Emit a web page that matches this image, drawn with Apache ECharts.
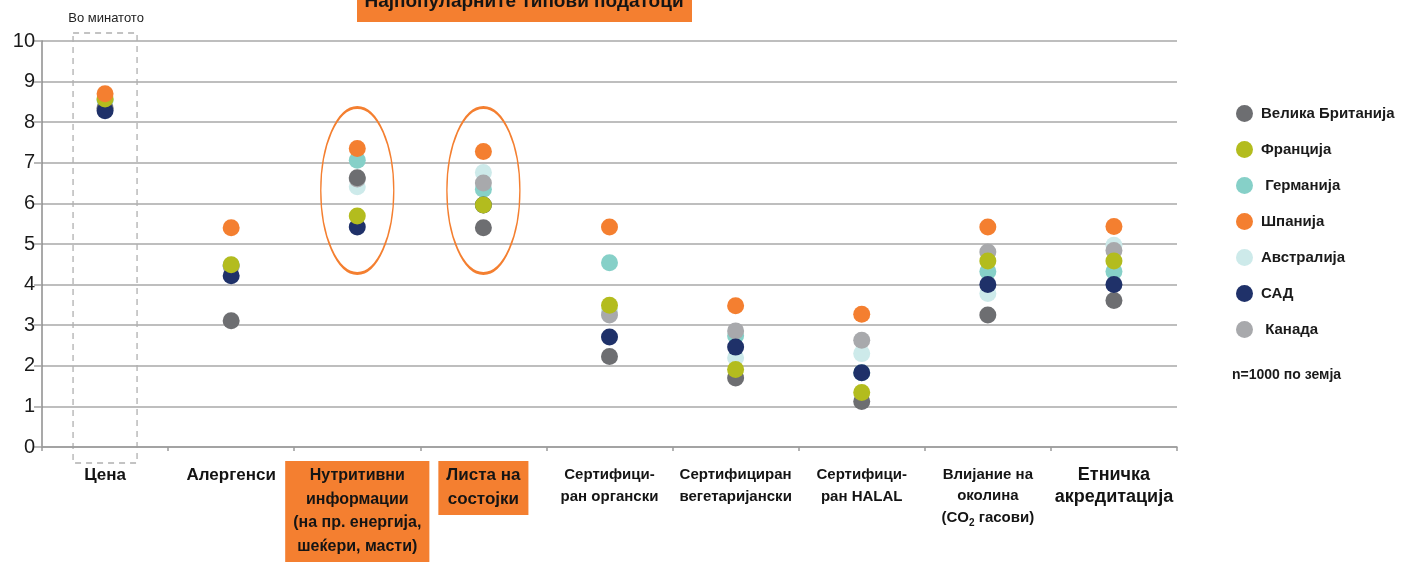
<!DOCTYPE html>
<html>
<head>
<meta charset="utf-8">
<script src="https://cdn.jsdelivr.net/npm/echarts@6/dist/echarts.min.js"></script>
<style>
  html, body { margin: 0; padding: 0; background: #ffffff; }
  #chart { width: 1407px; height: 562px; }
</style>
</head>
<body>
<div id="chart"></div>
<script>
// Categories (x axis), in display order; line breaks are part of the label text
const categories = [
  'Цена',
  'Алергенси',
  'Нутритивни\nинформации\n(на пр. енергија,\nшеќери, масти)',
  'Листа на\nсостојки',
  'Сертифици-\nран органски',
  'Сертифициран\nвегетаријански',
  'Сертифици-\nран HALAL',
  'Влијание на\nоколина\n(CO2 гасови)',
  'Етничка\nакредитација'
];

// Countries as listed in the legend
const countries = ['Велика Британија', 'Франција', 'Германија', 'Шпанија', 'Австралија', 'САД', 'Канада'];

// Average importance score (0–10) per category, one array per country
const ukValues        = [8.34, 3.11, 6.63, 5.40, 2.23, 1.70, 1.12, 3.25, 3.61];
const franceValues    = [8.57, 4.49, 5.69, 5.96, 3.49, 1.91, 1.34, 4.58, 4.58];
const germanyValues   = [8.55, 4.47, 7.06, 6.35, 4.54, 2.74, 1.83, 4.32, 4.32];
const spainValues     = [8.70, 5.40, 7.35, 7.28, 5.42, 3.48, 3.27, 5.42, 5.43];
const australiaValues = [8.53, 4.48, 6.41, 6.76, 3.35, 2.20, 2.30, 3.78, 4.97];
const usaValues       = [8.28, 4.22, 5.42, 5.96, 2.71, 2.46, 1.83, 4.00, 4.00];
const canadaValues    = [8.35, 4.45, 6.60, 6.50, 3.25, 2.86, 2.63, 4.80, 4.84];

// Y axis range and step
const yMin = 0, yMax = 10, yStep = 1;

// Categories circled as the most popular ones, and the score the ring is centred on
const popularCategories = [categories[2], categories[3]];
const popularRingCentre = 6.32;
const pastCategory = categories[0];

// ---- styling ----
const FONT = '"Liberation Sans", Arial, Helvetica, sans-serif';
const ORANGE = '#f47f30';
const countryColors = {
  'Велика Британија': '#6d6e71',
  'Франција': '#b3bc1e',
  'Германија': '#86d0c8',
  'Шпанија': '#f47f30',
  'Австралија': '#cdeaea',
  'САД': '#1f3169',
  'Канада': '#a8a9ac'
};
const countryValues = {
  'Велика Британија': ukValues,
  'Франција': franceValues,
  'Германија': germanyValues,
  'Шпанија': spainValues,
  'Австралија': australiaValues,
  'САД': usaValues,
  'Канада': canadaValues
};
// stacking order of the dot layers (first = bottom)
const drawOrder = ['Австралија', 'Германија', 'Канада', 'Велика Британија', 'САД', 'Франција', 'Шпанија'];
const labelFontSize = [17, 17, 16, 17, 15, 15, 15, 15, 18];
const labelLineHeight = [22, 22, 23.5, 23.5, 22, 22, 22, 21.5, 22];

const chart = echarts.init(document.getElementById('chart'), null, { renderer: 'canvas' });

const xData = categories.map((c, i) => {
  const ts = { fontSize: labelFontSize[i], lineHeight: labelLineHeight[i] };
  if (popularCategories.includes(c)) {
    ts.backgroundColor = ORANGE;
    ts.padding = [3, 8, 4, 8];
  }
  return { value: c, textStyle: ts };
});

const dotSeries = drawOrder.map(name => ({
  name: name,
  type: 'scatter',
  symbol: 'circle',
  symbolSize: 17,
  itemStyle: { color: countryColors[name], opacity: 1 },
  emphasis: { disabled: true },
  data: countryValues[name].map((v, i) => [categories[i], v]),
  z: 3
}));

const ringSeries = {
  name: 'ring',
  type: 'scatter',
  silent: true,
  symbol: 'path://M0,50 C0,22.4 22.4,0 50,0 C77.6,0 100,22.4 100,50 C100,77.6 77.6,100 50,100 C22.4,100 0,77.6 0,50 Z',
  symbolSize: [73, 166],
  itemStyle: { color: 'transparent', borderColor: ORANGE, borderWidth: 2, opacity: 1 },
  emphasis: { disabled: true },
  data: popularCategories.map(c => [c, popularRingCentre]),
  z: 2
};

chart.setOption({
  animation: false,
  textStyle: { fontFamily: FONT },
  grid: { left: 42, right: 230, top: 41, bottom: 110, containLabel: false },
  legend: {
    data: countries,
    orient: 'vertical',
    left: 1231,
    top: 100,
    icon: 'circle',
    itemWidth: 17,
    itemHeight: 17,
    itemGap: 19,
    selectedMode: false,
    formatter: n => (n === 'Германија' || n === 'Канада') ? ' ' + n : n,
    textStyle: { fontFamily: FONT, fontSize: 15, fontWeight: 'bold', color: '#1a1a1a', padding: [0, 0, 0, 3] }
  },
  xAxis: {
    type: 'category',
    data: xData,
    boundaryGap: true,
    axisLine: { show: true, lineStyle: { color: '#9a9a9a', width: 1.5 } },
    axisTick: { show: true, length: 4, lineStyle: { color: '#9a9a9a', width: 1.5 } },
    splitLine: { show: false },
    axisLabel: {
      interval: 0,
      margin: 14,
      fontFamily: FONT,
      fontWeight: 'bold',
      color: '#141414',
      align: 'center',
      padding: [3, 0, 0, 0],
      formatter: v => v.replace('CO2', 'CO{sub|2}'),
      rich: {
        sub: { fontFamily: FONT, fontWeight: 'bold', fontSize: 10, color: '#141414', verticalAlign: 'bottom', padding: [6, 0, 0, 0] }
      }
    }
  },
  yAxis: {
    type: 'value',
    min: yMin,
    max: yMax,
    interval: yStep,
    axisLine: { show: true, lineStyle: { color: '#8c8c8c', width: 1.5 } },
    axisTick: { show: true, length: 8, lineStyle: { color: '#a3a3a3', width: 1.5 } },
    splitLine: { show: true, lineStyle: { color: '#a8a8a8', width: 1.5 } },
    axisLabel: { fontFamily: FONT, fontSize: 20, color: '#1a1a1a', margin: 7 }
  },
  series: [ringSeries].concat(dotSeries)
});

// Annotations tied to axis positions: dashed frame around "Цена", note, heading box
const cx = chart.convertToPixel({ xAxisIndex: 0 }, pastCategory);
const yTop = chart.convertToPixel({ yAxisIndex: 0 }, yMax);
const yBottom = chart.convertToPixel({ yAxisIndex: 0 }, yMin);

chart.setOption({
  graphic: [
    {
      type: 'rect',
      z: 0,
      silent: true,
      shape: { x: cx - 32, y: yTop - 8, width: 64, height: (yBottom + 16) - (yTop - 8) },
      style: { fill: 'none', stroke: '#b0b0b0', lineWidth: 1.3, lineDash: [6, 5] }
    },
    {
      type: 'text',
      z: 5,
      silent: true,
      x: cx + 1,
      y: yTop - 23,
      style: { text: 'Во минатото', font: '13px ' + FONT, fill: '#222', align: 'center', verticalAlign: 'middle' }
    },
    {
      type: 'rect',
      z: 5,
      silent: true,
      shape: { x: 357, y: -10, width: 335, height: 32 },
      style: { fill: ORANGE }
    },
    {
      type: 'text',
      z: 6,
      silent: true,
      x: 524,
      y: 2,
      style: { text: 'Најпопуларните типови податоци', font: 'bold 19px ' + FONT, fill: '#141414', align: 'center', verticalAlign: 'middle' }
    },
    {
      type: 'text',
      z: 5,
      silent: true,
      x: 1232,
      y: 375,
      style: { text: 'n=1000 по земја', font: 'bold 14px ' + FONT, fill: '#1a1a1a', align: 'left', verticalAlign: 'middle' }
    }
  ]
});
</script>
</body>
</html>
